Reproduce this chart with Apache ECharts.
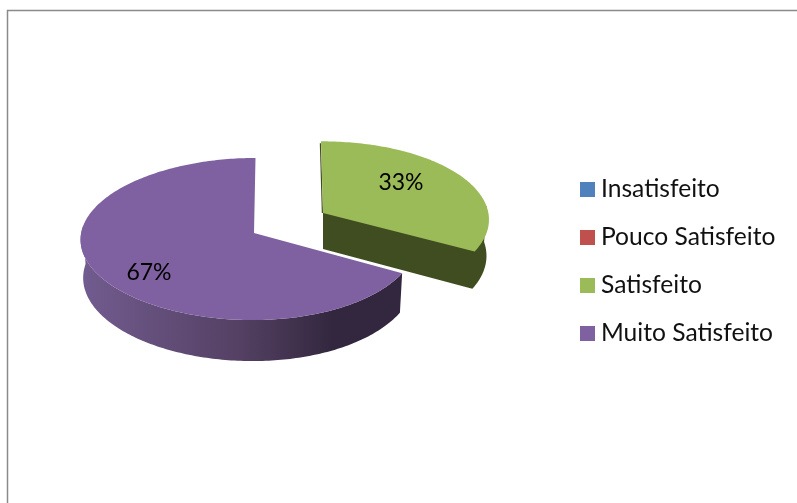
<!DOCTYPE html>
<html>
<head>
<meta charset="utf-8">
<style>html,body{margin:0;padding:0;background:#fff}#c{width:797px;height:503px}</style>
<script src="https://cdn.jsdelivr.net/npm/echarts@6/dist/echarts.min.js"></script>
</head>
<body>
<div id="c"></div>
<script>
const categories = ['Insatisfeito', 'Pouco Satisfeito', 'Satisfeito', 'Muito Satisfeito'];
const values = [0, 0, 33, 67];
const colors = ['#4f81bd', '#c0504d', '#9bbb59', '#7f60a0'];

// Layout of the exploded 3D discs, per category (null = nothing visible)
const discs = [null, null,
  {cx: 323, cy: 213, A: 170, B: 77, depth: 36, skew: -2, label: [78, -30]},
  {cx: 254, cy: 233, A: 168, B: 80.6, depth: 38, skew: 1.5, label: [-105, 40]}
];
const KV = 0.074, KU = 0.028, BOTTOM_SHRINK = 0.985;
const total = values.reduce((a, b) => a + b, 0);

function project(d, deg) {
  const t = deg * Math.PI / 180, u = Math.sin(t), v = Math.cos(t);
  const w = 1 + KV * v;
  const x = d.cx + d.A * u / (w + KU * u) + d.skew * v, y = d.cy - d.B * v / w;
  return {top: [x, y], bottom: [d.cx + (x - d.cx) * BOTTOM_SHRINK, y + d.depth / w]};
}

const wallFill = {
  2: '#404d20',
  3: {type: 'linear', global: true, x: 81, y: 0, x2: 403, y2: 0, colorStops: [
    {offset: 0, color: '#725c90'}, {offset: 0.5, color: '#534062'},
    {offset: 0.78, color: '#33273f'}, {offset: 1, color: '#33273f'}]}
};

function renderSlice(params) {
  const i = params.seriesIndex, d = discs[i];
  if (!d || !values[i]) return null;
  const before = values.slice(0, i).reduce((a, b) => a + b, 0);
  const t0 = before / total * 360, t1 = (before + values[i]) / total * 360;
  const top = [], bot = [];
  for (let t = t0; t < t1; t += 1) { const p = project(d, t); top.push(p.top); bot.push(p.bottom); }
  const e = project(d, t1); top.push(e.top); bot.push(e.bottom);
  const children = [];
  // visible wall: the part of the rim nearest to the viewer
  const outer = [], outerB = [];
  for (let k = 0; k < top.length; k++) {
    const t = Math.min(t0 + k, t1);
    if (t >= 85 && t <= 275) { outer.push(top[k]); outerB.push(bot[k]); }
  }
  if (t1 < 180) {
    // a slice ending on the right also shows its radial wall: one outline under the top face
    children.push({type: 'polygon',
      shape: {points: [[d.cx, d.cy], outer[0]].concat(outerB, [[d.cx, d.cy + d.depth]])},
      style: {fill: wallFill[i]}});
    children.push({type: 'polyline', shape: {points: [[top[0][0] - 0.6, top[0][1] + 2], [d.cx - 0.6, d.cy]]},
      style: {stroke: wallFill[i], lineWidth: 1.2, fill: null}});
  } else if (outer.length > 1) {
    children.push({type: 'polygon', shape: {points: outer.concat(outerB.slice().reverse())},
      style: {fill: wallFill[i]}});
  }
  children.push({type: 'polygon', shape: {points: [[d.cx, d.cy]].concat(top)}, style: {fill: colors[i]}});
  children.push({type: 'text', style: {
    text: Math.round(values[i] / total * 100) + '%',
    x: d.cx + d.label[0], y: d.cy + d.label[1], fill: '#000',
    font: '23px Lato', align: 'center', verticalAlign: 'middle'}});
  return {type: 'group', children};
}

const chart = echarts.init(document.getElementById('c'), null, {renderer: 'canvas'});
chart.setOption({
  animation: false,
  backgroundColor: '#fff',
  textStyle: {fontFamily: 'Lato'},
  graphic: [{type: 'polyline', silent: true,
    shape: {points: [[7.5, 503], [7.5, 10.5], [797, 10.5]]},
    style: {stroke: '#8a8a8a', lineWidth: 1.5, fill: null}}],
  legend: {
    orient: 'vertical', left: 575, top: 172, icon: 'rect',
    itemWidth: 15, itemHeight: 15, itemGap: 23, selectedMode: false,
    data: categories,
    textStyle: {fontFamily: 'Lato', fontSize: 24.6, color: '#111', padding: [0, 0, 0, 1]}
  },
  series: categories.map((name, i) => ({
    type: 'custom', name, coordinateSystem: 'none', silent: true,
    itemStyle: {color: colors[i]},
    renderItem: renderSlice,
    data: [[values[i]]]
  }))
});
</script>
</body>
</html>
